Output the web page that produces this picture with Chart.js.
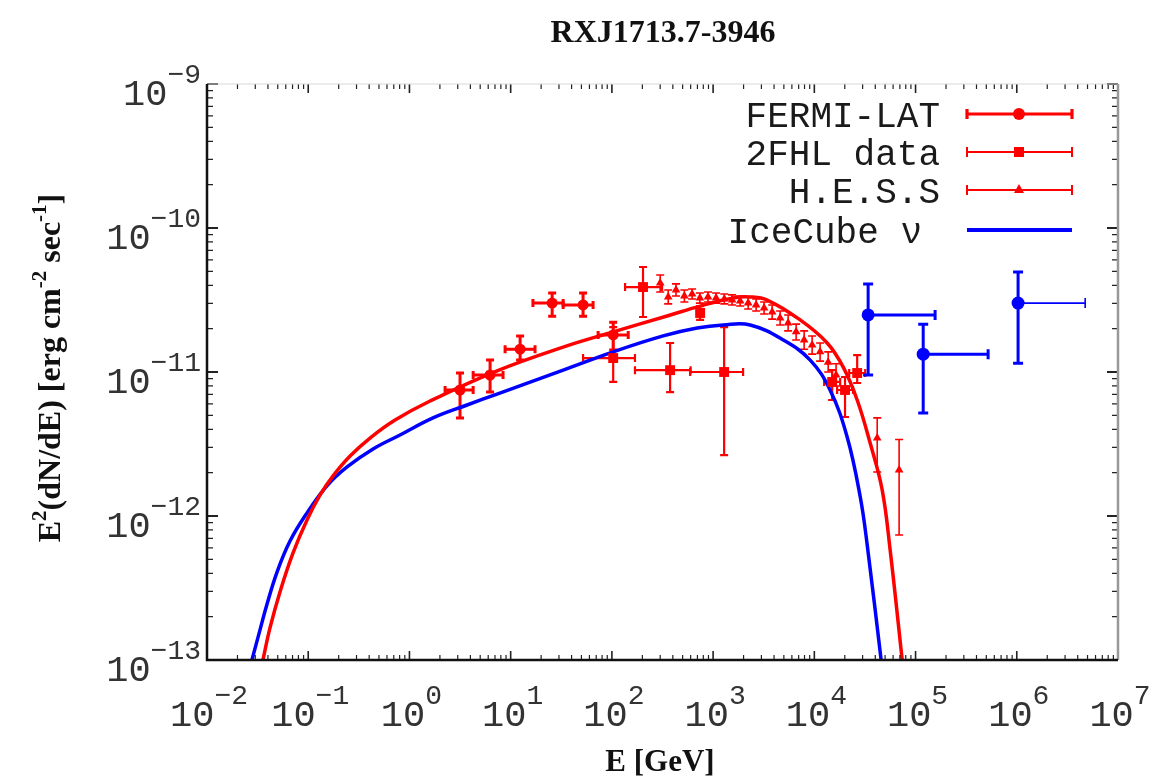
<!DOCTYPE html>
<html>
<head>
<meta charset="utf-8">
<script src="https://cdn.jsdelivr.net/npm/chart.js@4.4.1/dist/chart.umd.min.js"></script>
<style>
  html, body { margin: 0; padding: 0; background: #fff; }
  #wrap { width: 1170px; height: 779px; }
</style>
</head>
<body>
<div id="wrap"><canvas id="sedChart" width="1170" height="779"></canvas></div>
<script>
// Axis decades (powers of ten)
const xDecades = [-2, -1, 0, 1, 2, 3, 4, 5, 6, 7];
const yDecades = [-13, -12, -11, -10, -9];

// FERMI-LAT points  (E in GeV, E^2 dN/dE in erg cm^-2 s^-1)
const fermiE   = [3.16, 6.26, 12.4, 25.7, 51.9, 103];
const fermiElo = [2.25, 4.26, 8.81, 16.6, 33.0, 73.1];
const fermiEhi = [4.26, 8.41, 17.4, 33.0, 65.2, 145];
const fermiF   = [7.50e-12, 9.53e-12, 1.44e-11, 3.01e-11, 2.92e-11, 1.81e-11];
const fermiFlo = [4.80e-12, 7.26e-12, 1.21e-11, 2.44e-11, 2.44e-11, 1.42e-11];
const fermiFhi = [9.84e-12, 1.21e-11, 1.78e-11, 3.54e-11, 3.54e-11, 2.22e-11];

// 2FHL points
const fhlE   = [103, 203, 376, 744, 1285, 15000, 20100, 26500];
const fhlElo = [51.9, 135, 169, 744, 593, 12500, 16800, 22100];
const fhlEhi = [169, 313, 600, 744, 1977, 18000, 24100, 31800];
const fhlF   = [1.25e-11, 3.89e-11, 1.03e-11, 2.57e-11, 1.00e-11, 8.53e-12, 7.50e-12, 9.84e-12];
const fhlFlo = [8.53e-12, 2.41e-11, 7.26e-12, 2.30e-11, 2.65e-12, 6.39e-12, 4.87e-12, 8.39e-12];
const fhlFhi = [2.05e-11, 5.36e-11, 1.59e-11, 2.87e-11, 2.05e-11, 1.03e-11, 9.23e-12, 1.31e-11];

// H.E.S.S. points
const hessE   = [300, 360, 430, 520, 620, 740, 890, 1070, 1290, 1540, 1850, 2220, 2660,
                 3190, 3830, 4590, 5510, 6610, 7930, 9510, 11400, 13700, 16400, 41800, 68800];
const hessF   = [4.15e-11, 3.32e-11, 3.71e-11, 3.37e-11, 3.48e-11, 3.27e-11, 3.32e-11, 3.27e-11,
                 3.21e-11, 3.16e-11, 3.11e-11, 3.01e-11, 2.92e-11, 2.78e-11, 2.61e-11, 2.37e-11,
                 2.19e-11, 1.90e-11, 1.67e-11, 1.54e-11, 1.38e-11, 1.17e-11, 9.53e-12, 3.48e-12, 2.09e-12];
const hessFlo = [3.59e-11, 2.97e-11, 3.37e-11, 3.06e-11, 3.21e-11, 3.01e-11, 3.06e-11, 3.01e-11,
                 2.97e-11, 2.92e-11, 2.87e-11, 2.74e-11, 2.65e-11, 2.53e-11, 2.33e-11, 2.12e-11,
                 1.93e-11, 1.67e-11, 1.44e-11, 1.33e-11, 1.19e-11, 1.00e-11, 8.00e-12, 2.02e-12, 7.38e-13];
const hessFhi = [4.72e-11, 3.71e-11, 4.09e-11, 3.71e-11, 3.77e-11, 3.54e-11, 3.59e-11, 3.54e-11,
                 3.48e-11, 3.43e-11, 3.37e-11, 3.32e-11, 3.21e-11, 3.06e-11, 2.92e-11, 2.65e-11,
                 2.49e-11, 2.15e-11, 1.93e-11, 1.78e-11, 1.59e-11, 1.38e-11, 1.14e-11, 4.80e-12, 3.40e-12];

// IceCube neutrino points
const iceE   = [3.40e4, 1.19e5, 1.03e6];
const iceElo = [3.40e4, 1.19e5, 1.03e6];
const iceEhi = [1.56e5, 5.21e5, 4.74e6];
const iceF   = [2.49e-11, 1.33e-11, 3.01e-11];
const iceFlo = [9.53e-12, 5.19e-12, 1.15e-11];
const iceFhi = [4.09e-11, 2.15e-11, 4.95e-11];

// gamma-ray model curve
const gammaE = [0.0357, 0.0419, 0.0526, 0.0708, 0.0973, 0.131, 0.176, 0.259, 0.408, 0.721,
                1.60, 7.34, 33.0, 103, 351, 744, 1577, 2322, 3420, 7244, 13400, 19300, 26500,
                35600, 46800, 56100, 73800];
const gammaF = [1e-13, 1.67e-13, 2.97e-13, 5.54e-13, 9.38e-13, 1.40e-12, 1.90e-12, 2.61e-12,
                3.48e-12, 4.64e-12, 6.29e-12, 1.02e-11, 1.49e-11, 1.90e-11, 2.45e-11, 2.87e-11,
                3.27e-11, 3.32e-11, 3.16e-11, 2.30e-11, 1.59e-11, 1.08e-11, 6.39e-12, 3.21e-12,
                1.52e-12, 5.81e-13, 1e-13];

// neutrino model curve
const nuE = [0.0278, 0.0334, 0.0392, 0.0492, 0.0661, 0.0973, 0.153, 0.242, 0.437, 0.807, 1.71,
             3.71, 7.34, 33.0, 103, 321, 695, 1256, 2322, 4920, 9100, 14300, 21100, 28400, 33300, 45700];
const nuF = [1e-13, 1.62e-13, 2.45e-13, 4.08e-13, 6.70e-13, 1.05e-12, 1.62e-12, 2.19e-12, 2.92e-12,
             3.65e-12, 4.80e-12, 5.90e-12, 7.03e-12, 1.03e-11, 1.38e-11, 1.78e-11, 2.02e-11, 2.12e-11,
             2.12e-11, 1.67e-11, 1.21e-11, 7.50e-12, 3.54e-12, 1.36e-12, 6.29e-13, 1e-13];

const RED = '#ff0000';
const BLUE = '#0000ff';

function pts(xs, ys) {
    return xs.map((v, i) => ({ x: v, y: ys[i] }));
}

// error bars drawn under the markers, clipped to the plot box
const errorBars = {
    id: 'errorBars',
    beforeDatasetsDraw(chart) {
        const { ctx, chartArea: a, scales: { x, y } } = chart;
        ctx.save();
        ctx.beginPath();
        ctx.rect(a.left, a.top, a.right - a.left, a.bottom - a.top);
        ctx.clip();
        chart.data.datasets.forEach(ds => {
            const e = ds.err;
            if (!e) return;
            ctx.strokeStyle = ds.borderColor;
            ds.data.forEach((p, i) => {
                const px = x.getPixelForValue(p.x);
                const py = y.getPixelForValue(p.y);
                const xl = x.getPixelForValue(e.xlo[i]);
                const xh = x.getPixelForValue(e.xhi[i]);
                const yl = y.getPixelForValue(e.ylo[i]);
                const yh = y.getPixelForValue(e.yhi[i]);
                const c = e.cap;
                ctx.lineWidth = e.yw;
                ctx.beginPath();
                ctx.moveTo(px, yl); ctx.lineTo(px, yh);
                ctx.moveTo(px - c, yl); ctx.lineTo(px + c, yl);
                ctx.moveTo(px - c, yh); ctx.lineTo(px + c, yh);
                ctx.stroke();
                if (xh - xl > 1) {
                    ctx.lineWidth = Array.isArray(e.xw) ? e.xw[i] : e.xw;
                    ctx.beginPath();
                    ctx.moveTo(xl, py); ctx.lineTo(xh, py);
                    if (xl < px - 1) { ctx.moveTo(xl, py - c); ctx.lineTo(xl, py + c); }
                    ctx.moveTo(xh, py - c); ctx.lineTo(xh, py + c);
                    ctx.stroke();
                }
            });
        });
        ctx.restore();
    }
};

// draws "10" with a raised exponent; align: 'center' or 'right'
function powerLabel(ctx, exp, x, y, align) {
    const base = '10';
    const sup = String(exp).replace('-', '\u2212');
    ctx.font = '37px "Liberation Mono", monospace';
    const wb = ctx.measureText(base).width;
    ctx.font = '28px "Liberation Mono", monospace';
    const ws = ctx.measureText(sup).width;
    const total = wb + ws;
    const x0 = align === 'right' ? x - total : x - total / 2;
    ctx.textAlign = 'left';
    ctx.textBaseline = 'alphabetic';
    ctx.font = '37px "Liberation Mono", monospace';
    ctx.fillText(base, x0, y);
    ctx.font = '28px "Liberation Mono", monospace';
    ctx.fillText(sup, x0 + wb, y - 22);
}

// frame, inward ticks, tick labels, titles and key
const frameAndText = {
    id: 'frameAndText',
    afterDraw(chart) {
        const { ctx, chartArea: a, scales: { x, y } } = chart;
        ctx.save();

        // ticks on all four sides
        ctx.strokeStyle = '#222';
        xDecades.forEach(d => {
            for (let m = 1; m <= 9; m++) {
                const v = m * Math.pow(10, d);
                if (v < x.min || v > x.max) continue;
                const px = x.getPixelForValue(v);
                const len = m === 1 ? 9 : 5;
                ctx.lineWidth = m === 1 ? 1.6 : 1.2;
                ctx.beginPath();
                ctx.moveTo(px, a.bottom); ctx.lineTo(px, a.bottom - len);
                ctx.moveTo(px, a.top); ctx.lineTo(px, a.top + len);
                ctx.stroke();
            }
        });
        yDecades.forEach(d => {
            for (let m = 1; m <= 9; m++) {
                const v = m * Math.pow(10, d);
                if (v < y.min || v > y.max * 1.0001) continue;
                const py = y.getPixelForValue(v);
                const len = m === 1 ? 11 : 6;
                ctx.lineWidth = m === 1 ? 1.8 : 1.3;
                ctx.beginPath();
                ctx.moveTo(a.left, py); ctx.lineTo(a.left + len, py);
                ctx.moveTo(a.right, py); ctx.lineTo(a.right - len, py);
                ctx.stroke();
            }
        });

        // plot box
        ctx.lineWidth = 1;
        ctx.strokeStyle = '#d8d8d8';
        ctx.beginPath();
        ctx.moveTo(a.left, a.top); ctx.lineTo(a.right, a.top);
        ctx.stroke();
        ctx.lineWidth = 2.5;
        ctx.strokeStyle = '#999';
        ctx.beginPath();
        ctx.moveTo(a.right, a.top); ctx.lineTo(a.right, a.bottom);
        ctx.stroke();
        ctx.strokeStyle = '#111';
        ctx.lineWidth = 2.5;
        ctx.beginPath();
        ctx.moveTo(a.left, a.top); ctx.lineTo(a.left, a.bottom); ctx.lineTo(a.right, a.bottom);
        ctx.stroke();

        // tick labels
        ctx.fillStyle = '#333';
        xDecades.forEach(d => {
            powerLabel(ctx, d, x.getPixelForValue(Math.pow(10, d)) + 2, a.bottom + 66, 'center');
        });
        yDecades.forEach(d => {
            powerLabel(ctx, d, a.left - 6, y.getPixelForValue(Math.pow(10, d)) + 21, 'right');
        });

        // title
        ctx.fillStyle = '#111';
        ctx.textAlign = 'center';
        ctx.font = 'bold 32px "Liberation Serif", serif';
        ctx.fillText('RXJ1713.7-3946', 663, 42);

        // x axis title
        ctx.font = 'bold 31px "Liberation Serif", serif';
        ctx.fillText('E [GeV]', 660, 771);

        // y axis title, rotated, with superscripts
        const parts = [
            ['E', 0], ['2', 1], ['(dN/dE) [erg cm', 0], ['-2', 1], [' sec', 0], ['-1', 1], [']', 0]
        ];
        const bigFont = 'bold 32px "Liberation Serif", serif';
        const smallFont = 'bold 21px "Liberation Serif", serif';
        let total = 0;
        parts.forEach(p => {
            ctx.font = p[1] ? smallFont : bigFont;
            total += ctx.measureText(p[0]).width;
        });
        ctx.translate(60, 368);
        ctx.rotate(-Math.PI / 2);
        ctx.textAlign = 'left';
        let cx = -total / 2;
        parts.forEach(p => {
            ctx.font = p[1] ? smallFont : bigFont;
            ctx.fillText(p[0], cx, p[1] ? -14 : 0);
            cx += ctx.measureText(p[0]).width;
        });
        ctx.setTransform(1, 0, 0, 1, 0, 0);

        // key
        const keyRows = [
            { text: 'FERMI-LAT', y: 114, color: RED, lw: 3.2, marker: 'circle', caps: true, right: 940 },
            { text: '2FHL data', y: 152, color: RED, lw: 2, marker: 'rect', caps: true, right: 940 },
            { text: 'H.E.S.S', y: 190, color: RED, lw: 2, marker: 'triangle', caps: true, right: 940 },
            { text: 'IceCube \u03bd', y: 230, color: BLUE, lw: 4, marker: null, caps: false, right: 922 }
        ];
        keyRows.forEach(r => {
            ctx.fillStyle = '#1a1a1a';
            ctx.textAlign = 'right';
            ctx.font = '36px "Liberation Mono", monospace';
            ctx.fillText(r.text, r.right, r.y + 13);
            const x0 = 967, x1 = 1072, xm = 1019;
            ctx.strokeStyle = r.color;
            ctx.fillStyle = r.color;
            ctx.lineWidth = r.lw;
            ctx.beginPath();
            ctx.moveTo(x0, r.y); ctx.lineTo(x1, r.y);
            if (r.caps) {
                ctx.moveTo(x0, r.y - 5); ctx.lineTo(x0, r.y + 5);
                ctx.moveTo(x1, r.y - 5); ctx.lineTo(x1, r.y + 5);
            }
            ctx.stroke();
            if (r.marker) {
                ctx.beginPath();
                if (r.marker === 'circle') ctx.arc(xm, r.y, 6, 0, Math.PI * 2);
                if (r.marker === 'rect') ctx.rect(xm - 5, r.y - 5, 10, 10);
                if (r.marker === 'triangle') {
                    ctx.moveTo(xm, r.y - 6); ctx.lineTo(xm + 5, r.y + 3); ctx.lineTo(xm - 5, r.y + 3);
                    ctx.closePath();
                }
                ctx.fill();
            }
        });
        ctx.restore();
    }
};

const datasets = [
    {
        label: 'FERMI-LAT', data: pts(fermiE, fermiF),
        err: { xlo: fermiElo, xhi: fermiEhi, ylo: fermiFlo, yhi: fermiFhi, xw: 3, yw: 3, cap: 4 },
        borderColor: RED, backgroundColor: RED, pointStyle: 'circle', pointRadius: 5.5, borderWidth: 0
    },
    {
        label: '2FHL data', data: pts(fhlE, fhlF),
        err: { xlo: fhlElo, xhi: fhlEhi, ylo: fhlFlo, yhi: fhlFhi, xw: 2.2, yw: 2.2, cap: 4 },
        borderColor: RED, backgroundColor: RED, pointStyle: 'rect', pointRadius: 7, borderWidth: 0
    },
    {
        label: 'H.E.S.S', data: pts(hessE, hessF),
        err: { xlo: hessE, xhi: hessE, ylo: hessFlo, yhi: hessFhi, xw: 1.6, yw: 1.6, cap: 4 },
        borderColor: RED, backgroundColor: RED, pointStyle: 'triangle', pointRadius: 5, borderWidth: 0
    },
    {
        label: 'IceCube points', data: pts(iceE, iceF),
        err: { xlo: iceElo, xhi: iceEhi, ylo: iceFlo, yhi: iceFhi, xw: [3, 3, 1.6], yw: 3, cap: 5 },
        borderColor: BLUE, backgroundColor: BLUE, pointStyle: 'circle', pointRadius: 6.5, borderWidth: 0
    },
    {
        label: 'gamma model', data: pts(gammaE, gammaF), showLine: true,
        borderColor: RED, borderWidth: 3.5, pointRadius: 0, tension: 0.4
    },
    {
        label: 'IceCube \u03bd', data: pts(nuE, nuF), showLine: true,
        borderColor: BLUE, borderWidth: 3.5, pointRadius: 0, tension: 0.4
    }
];

new Chart(document.getElementById('sedChart').getContext('2d'), {
    type: 'scatter',
    data: { datasets: datasets },
    options: {
        responsive: false,
        animation: false,
        events: [],
        layout: { padding: { left: 207, top: 84, right: 52, bottom: 119 } },
        plugins: { legend: { display: false }, tooltip: { enabled: false } },
        scales: {
            x: { type: 'logarithmic', min: 1e-2, max: 1e7, display: false },
            y: { type: 'logarithmic', min: 1e-13, max: 1e-9, display: false }
        }
    },
    plugins: [errorBars, frameAndText]
});
</script>
</body>
</html>
